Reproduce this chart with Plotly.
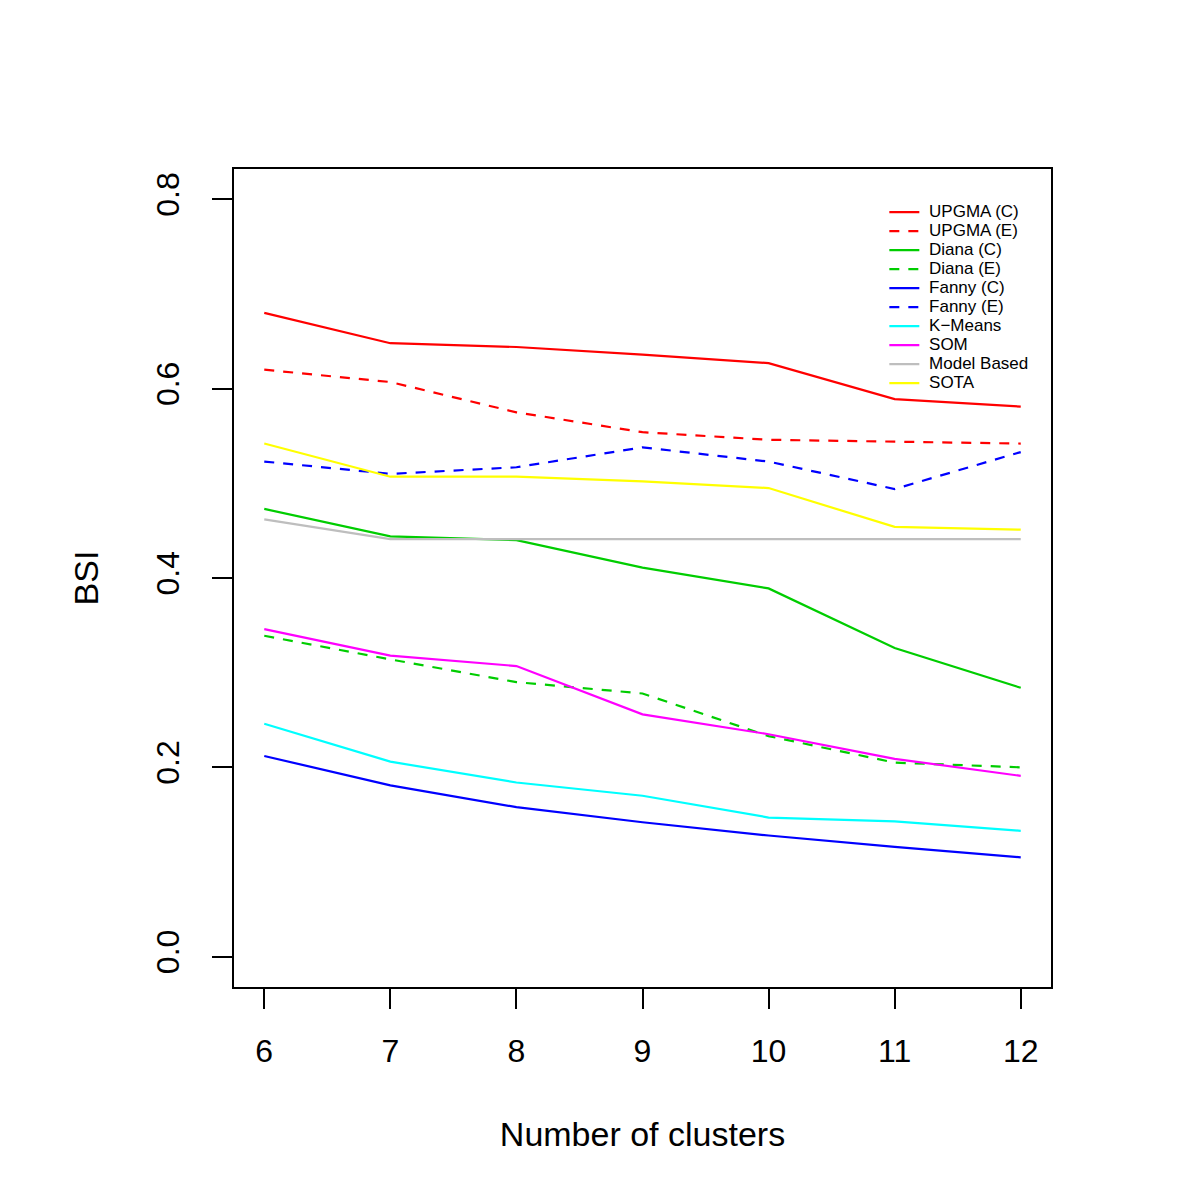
import plotly.graph_objects as go

clusters = [6, 7, 8, 9, 10, 11, 12]

upgma_c = [0.680, 0.648, 0.644, 0.636, 0.627, 0.589, 0.581]
upgma_e = [0.620, 0.607, 0.575, 0.554, 0.546, 0.544, 0.542]
diana_c = [0.473, 0.444, 0.440, 0.411, 0.389, 0.326, 0.284]
diana_e = [0.339, 0.314, 0.290, 0.278, 0.233, 0.205, 0.200]
fanny_c = [0.212, 0.181, 0.158, 0.142, 0.128, 0.116, 0.105]
fanny_e = [0.523, 0.510, 0.517, 0.538, 0.523, 0.494, 0.533]
kmeans = [0.246, 0.206, 0.184, 0.170, 0.147, 0.143, 0.133]
som = [0.346, 0.318, 0.307, 0.256, 0.235, 0.209, 0.191]
model_based = [0.462, 0.441, 0.441, 0.441, 0.441, 0.441, 0.441]
sota = [0.542, 0.507, 0.507, 0.502, 0.495, 0.454, 0.451]

series_names = ["UPGMA (C)", "UPGMA (E)", "Diana (C)", "Diana (E)", "Fanny (C)",
                "Fanny (E)", "K\u2212Means", "SOM", "Model Based", "SOTA"]
series_values = [upgma_c, upgma_e, diana_c, diana_e, fanny_c, fanny_e,
                 kmeans, som, model_based, sota]
series_colors = ["#FF0000", "#FF0000", "#00CD00", "#00CD00", "#0000FF", "#0000FF",
                 "#00FFFF", "#FF00FF", "#BEBEBE", "#FFFF00"]
series_dash = ["solid", "10px,9px", "solid", "10px,9px", "solid", "10px,9px",
               "solid", "solid", "solid", "solid"]

FONT = "Liberation Sans, Arial, Helvetica, sans-serif"

fig = go.Figure()
for name, vals, col, dash in zip(series_names, series_values, series_colors, series_dash):
    fig.add_trace(go.Scatter(
        x=clusters, y=vals, mode="lines",
        # larger legend text while keeping compact R-like row spacing
        name=f'<span style="font-size:17px">\u00a0{name}</span>',
        legendgroup=name,
        line=dict(color=col, width=2.2, dash=dash),
    ))

axis_common = dict(
    showgrid=False, zeroline=False, showline=True, mirror=True,
    linecolor="black", linewidth=2, ticks="outside", ticklen=20,
    tickwidth=2, tickcolor="black",
    tickfont=dict(family=FONT, size=32, color="black"),
)

fig.update_layout(
    width=1200, height=1200,
    paper_bgcolor="white", plot_bgcolor="white",
    margin=dict(l=226, r=157, t=161, b=221),
    font=dict(family=FONT, color="black"),
    xaxis=dict(
        range=[5.76, 12.24], tickvals=clusters, ticktext=[str(c) for c in clusters],
        ticklabelstandoff=15,
        title=dict(text="Number of clusters", font=dict(family=FONT, size=34, color="black"),
                   standoff=54),
        **axis_common,
    ),
    yaxis=dict(
        range=[-0.032, 0.832], tickvals=[0, 0.2, 0.4, 0.6, 0.8],
        ticktext=["0.0", "0.2", "0.4", "0.6", "0.8"], tickangle=-90,
        ticklabelstandoff=20,
        title=dict(text="BSI", font=dict(family=FONT, size=34, color="black"),
                   standoff=41),
        **axis_common,
    ),
    legend=dict(
        x=0.796, y=0.965, xanchor="left", yanchor="top",
        bgcolor="rgba(0,0,0,0)", borderwidth=0,
        font=dict(family=FONT, size=12, color="black"),
        itemwidth=30, tracegroupgap=0,
    ),
    showlegend=True,
)

fig.write_html("out.html")
